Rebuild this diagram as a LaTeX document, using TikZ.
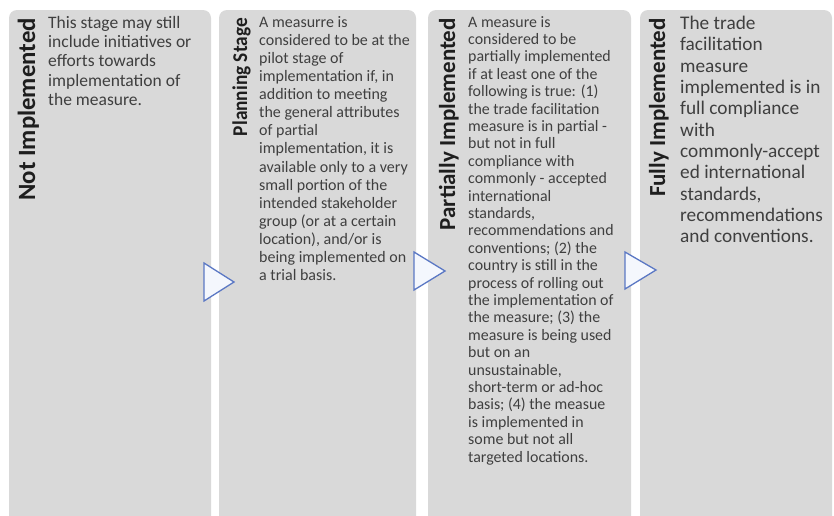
\documentclass[tikz,border=0pt]{standalone}
\usepackage{fontspec}
\setmainfont{Carlito}
\definecolor{panelgray}{HTML}{D9D9D9}
\definecolor{titlecol}{HTML}{1E1E1E}
\definecolor{bodycol}{HTML}{3F3F3F}
\definecolor{tricol}{HTML}{5B78C4}
\definecolor{trifill}{HTML}{F4F7FD}
\begin{document}
\begin{tikzpicture}[x=1pt,y=-1pt,
  panel/.style={fill=panelgray, draw=none, rounded corners=8pt},
  ttl/.style={rotate=90, anchor=base east, inner sep=0pt, text=titlecol,
    font=\bfseries\fontsize{23}{27}\selectfont},
  body/.style={anchor=north west, inner sep=0pt, align=left, text=bodycol},
  arrowtri/.style={draw=tricol, fill=trifill, line width=1.3pt, line join=miter}]
\useasboundingbox (0,0) rectangle (834,515);
\clip (0,0) rectangle (834,515);
\fill[white] (0,0) rectangle (834,515);
% panels
\path[panel] (9,10) rectangle (211,525);
\path[panel] (219,10) rectangle (416,525);
\path[panel] (428,10) rectangle (631,525);
\path[panel] (640,10) rectangle (832,525);
% titles
\node[ttl, font=\bfseries\fontsize{24.8}{28}\selectfont] (t1) at (35,18) {Not Implemented};
\node[ttl, font=\bfseries\fontsize{21}{25}\selectfont] (t2) at (247,18) {\scalebox{0.92}[1]{Planning Stage}};
\node[ttl] (t3) at (455,18) {Partially Implemented};
\node[ttl] (t4) at (665,18) {Fully Implemented};
% bodies
\node[body, font=\fontsize{17.5}{19.3}\selectfont] (b1) at (48,16)
 {This stage may still\\include initiatives or\\efforts towards\\implementation of\\the measure.};
\node[body, font=\fontsize{16}{18.1}\selectfont] (b2) at (259,16)
 {A measurre is\\considered to be at the\\pilot stage of\\implementation if, in\\addition to meeting\\the general attributes\\of partial\\implementation, it is\\available only to a very\\small portion of the\\intended stakeholder\\group (or at a certain\\location), and/or is\\being implemented on\\a trial basis.};
\node[body, font=\fontsize{15.9}{17.4}\selectfont] (b3) at (468,16)
 {A measure is\\considered to be\\partially implemented\\if at least one of the\\following is true: (1)\\the trade facilitation\\measure is in partial -\\but not in full\\compliance with\\commonly - accepted\\international\\standards,\\recommendations and\\conventions; (2) the\\country is still in the\\process of rolling out\\the implementation of\\the measure; (3) the\\measure is being used\\but on an\\unsustainable,\\short-term or ad-hoc\\basis; (4) the measue\\is implemented in\\some but not all\\targeted locations.};
\node[body, font=\fontsize{19.3}{21.3}\selectfont] (b4) at (680,16)
 {The trade\\facilitation\\measure\\implemented is in\\full compliance\\with\\commonly-accept\\ed international\\standards,\\recommendations\\and conventions.};
% arrows
\draw[arrowtri] (204,263) -- (204,301) -- (234,282) -- cycle;
\draw[arrowtri] (414,252) -- (414,290) -- (445,271) -- cycle;
\draw[arrowtri] (625,252) -- (625,289) -- (656,270) -- cycle;
\end{tikzpicture}
\end{document}
